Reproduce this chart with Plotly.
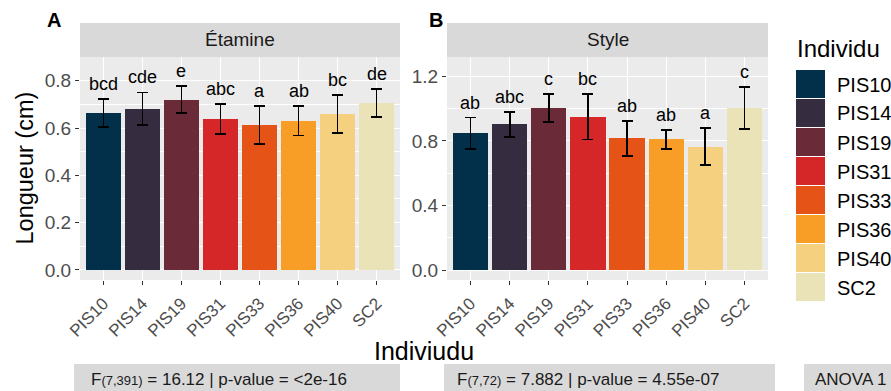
import plotly.graph_objects as go

W, H = 891, 391

individus = ["PIS10", "PIS14", "PIS19", "PIS31", "PIS33", "PIS36", "PIS40", "SC2"]
colors = ["#02304A", "#352D3F", "#6A2A37", "#D52728", "#E65316", "#F89E27", "#F4D07F", "#EAE3B8"]

etamine_mean = [0.662, 0.682, 0.720, 0.638, 0.612, 0.630, 0.659, 0.706]
etamine_sd = [0.059, 0.068, 0.056, 0.062, 0.080, 0.062, 0.081, 0.060]
etamine_letters = ["bcd", "cde", "e", "abc", "a", "ab", "bc", "de"]

style_mean = [0.847, 0.903, 1.004, 0.949, 0.816, 0.810, 0.764, 1.004]
style_sd = [0.098, 0.077, 0.086, 0.140, 0.107, 0.060, 0.114, 0.131]
style_letters = ["ab", "abc", "c", "bc", "ab", "ab", "a", "c"]

panel_titles = ["Étamine", "Style"]
panel_tags = ["A", "B"]
stat_texts = [
    "F<span style='font-size:13px'>(7,391)</span> = 16.12 | p-value = <2e-16",
    "F<span style='font-size:13px'>(7,72)</span> = 7.882 | p-value = 4.55e-07",
    "ANOVA 1",
]

FONT = "Liberation Sans, Arial, sans-serif"


def px(x):
    return x / W


def py(y):
    return 1 - y / H


# panel geometry in pixels
panels = [(80, 400), (447, 768)]
ptop, pbot = 57, 280
strip_top = 23
yranges = [[-0.0423, 0.900], [-0.062, 1.3205]]
ydticks = [0.2, 0.4]

fig = go.Figure()
shapes = []
annotations = []

data = [(etamine_mean, etamine_sd, etamine_letters), (style_mean, style_sd, style_letters)]
for k, (means, sds, letters) in enumerate(data):
    xa = "x" if k == 0 else "x2"
    ya = "y" if k == 0 else "y2"
    fig.add_trace(go.Bar(
        x=individus, y=means,
        marker=dict(color=colors, line=dict(width=0)),
        width=0.9,
        error_y=dict(type="data", array=sds, visible=True, color="black", thickness=1.8, width=5.5),
        xaxis=xa, yaxis=ya, showlegend=False, hoverinfo="skip",
    ))
    for name, m, s, lab in zip(individus, means, sds, letters):
        annotations.append(dict(
            x=name, y=m + s, xref=xa, yref=ya, text=lab, showarrow=False,
            yanchor="bottom", yshift=3, font=dict(size=18, color="black", family=FONT),
        ))

axis_common = dict(
    showline=False, zeroline=False, automargin=False,
    ticks="outside", ticklen=4, tickwidth=1, tickcolor="#333333",
    tickfont=dict(size=19, color="#4D4D4D", family=FONT),
    showgrid=True, gridcolor="white", gridwidth=1.1,
)

layout = dict(
    width=W, height=H, margin=dict(l=0, r=0, t=0, b=0, pad=0, autoexpand=False),
    paper_bgcolor="white", plot_bgcolor="#EBEBEB",
    bargap=0, showlegend=False,
)
for k, (x0, x1) in enumerate(panels):
    sx = "" if k == 0 else "2"
    layout["xaxis" + sx] = dict(
        axis_common, domain=[px(x0), px(x1)], anchor="y" + sx,
        type="category", categoryorder="array", categoryarray=individus,
        range=[-0.6, 7.6], tickangle=-45, ticklabelstandoff=2,
        tickfont=dict(size=17, color="#4D4D4D", family=FONT),
    )
    layout["yaxis" + sx] = dict(
        axis_common, domain=[py(pbot), py(ptop)], anchor="x" + sx,
        range=yranges[k], dtick=ydticks[k], tick0=0, tickformat=".1f",
        minor=dict(dtick=ydticks[k] / 2, tick0=0, showgrid=True, gridcolor="white", gridwidth=0.5, ticks=""),
    )

# strips
for k, (x0, x1) in enumerate(panels):
    shapes.append(dict(type="rect", xref="paper", yref="paper", x0=px(x0), x1=px(x1),
                       y0=py(ptop), y1=py(strip_top), fillcolor="#D9D9D9", line=dict(width=0), layer="below"))
    annotations.append(dict(xref="paper", yref="paper", x=px((x0 + x1) / 2), y=py((ptop + strip_top) / 2),
                            text=panel_titles[k], showarrow=False, xanchor="center", yanchor="middle",
                            font=dict(size=19, color="#1A1A1A", family=FONT)))

# panel tags
for tag, xc in zip(panel_tags, [54, 436]):
    annotations.append(dict(xref="paper", yref="paper", x=px(xc), y=py(20), text="<b>" + tag + "</b>",
                            showarrow=False, xanchor="center", yanchor="middle",
                            font=dict(size=20, color="black", family=FONT)))

# axis titles
annotations.append(dict(xref="paper", yref="paper", x=px(424), y=py(351), text="Indiviudu", showarrow=False,
                        xanchor="center", yanchor="middle", font=dict(size=25, color="black", family=FONT)))
annotations.append(dict(xref="paper", yref="paper", x=px(24), y=py(168.5), text="Longueur (cm)", showarrow=False,
                        textangle=-90, xanchor="center", yanchor="middle",
                        font=dict(size=23.5, color="black", family=FONT)))

# legend
annotations.append(dict(xref="paper", yref="paper", x=px(795), y=py(48.5), text="Individu", showarrow=False,
                        xanchor="left", yanchor="middle", font=dict(size=24, color="black", family=FONT)))
key_top, key_h = 70, 29
for i, (name, c) in enumerate(zip(individus, colors)):
    y0 = key_top + i * key_h
    shapes.append(dict(type="rect", xref="paper", yref="paper", x0=px(796), x1=px(825),
                       y0=py(y0 + key_h - 1), y1=py(y0), fillcolor=c, line=dict(width=0)))
    annotations.append(dict(xref="paper", yref="paper", x=px(835), y=py(y0 + key_h / 2), text=name,
                            showarrow=False, xanchor="left", yanchor="middle",
                            font=dict(size=20, color="black", family=FONT)))

# bottom stat boxes
boxes = [(74, 400, 89), (444, 775, 455), (804, 891, 813)]
for (b0, b1, tx), txt in zip(boxes, stat_texts):
    shapes.append(dict(type="rect", xref="paper", yref="paper", x0=px(b0), x1=px(b1),
                       y0=py(391), y1=py(364), fillcolor="#D9D9D9", line=dict(width=0)))
    annotations.append(dict(xref="paper", yref="paper", x=px(tx), y=py(379), text=txt, showarrow=False,
                            xanchor="left", yanchor="middle", font=dict(size=17, color="#1A1A1A", family=FONT)))

layout["shapes"] = shapes
layout["annotations"] = annotations
fig.update_layout(**layout)
fig.write_html("out.html", config={"displayModeBar": False},
               post_script="document.body.style.margin='0';document.body.style.overflow='hidden';")
